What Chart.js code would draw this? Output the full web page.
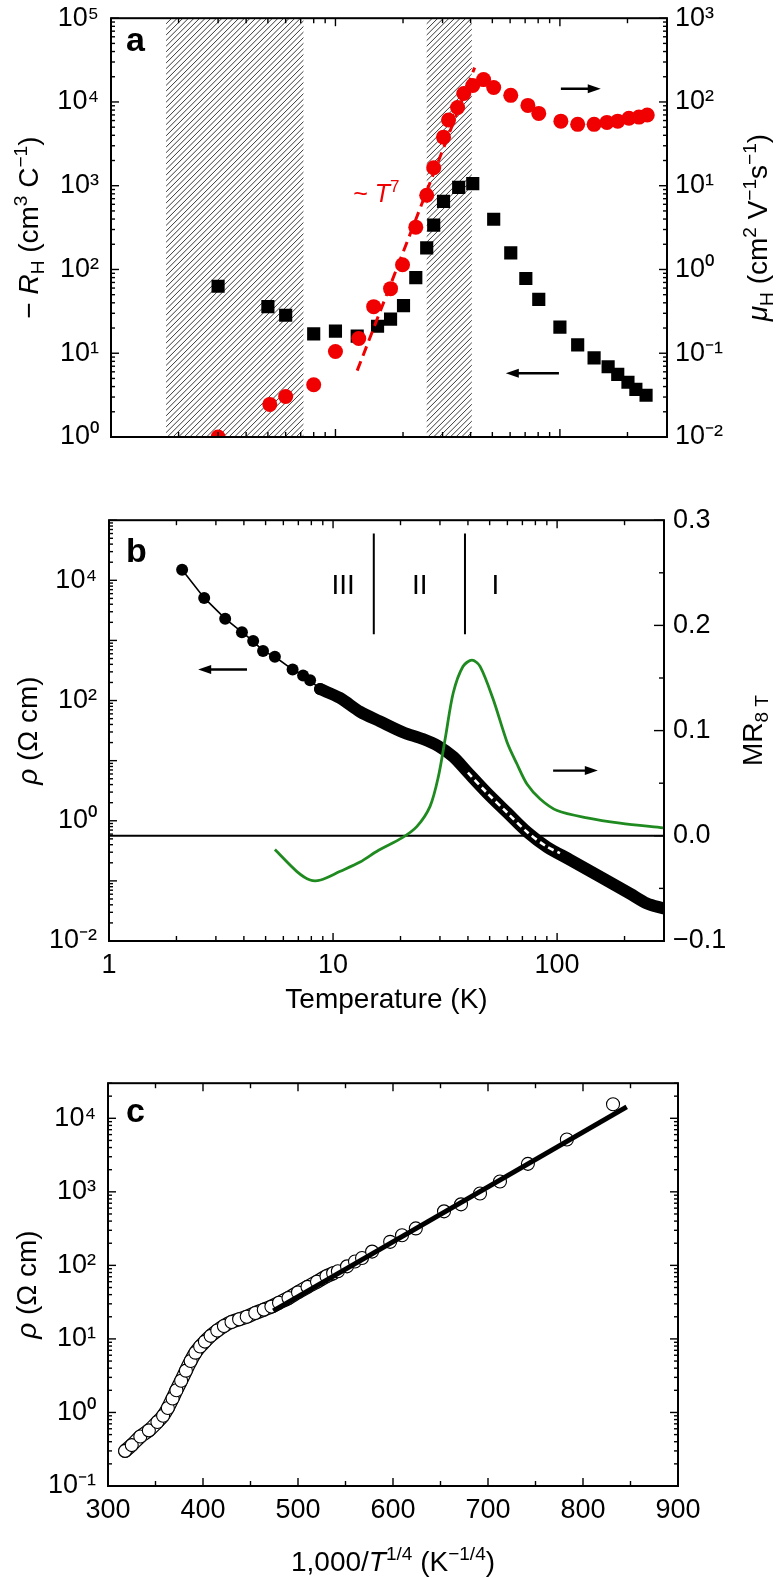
<!DOCTYPE html>
<html>
<head>
<meta charset="utf-8">
<title>Hall data, resistivity and VRH plot</title>
<script src="https://cdn.jsdelivr.net/npm/chart.js@4.4.1/dist/chart.umd.min.js"></script>
<style>
  html, body { margin: 0; padding: 0; background: #fff; }
  body { position: relative; width: 780px; height: 1578px; overflow: hidden; }
  canvas { position: absolute; left: 0; }
</style>
</head>
<body>
<canvas id="panelA" width="780" height="480" style="top:-10px"></canvas>
<canvas id="panelB" width="780" height="538" style="top:492px"></canvas>
<canvas id="panelC" width="780" height="523" style="top:1055px"></canvas>
<script>
// ---- panel a : -R_H (left) and mu_H (right) against T ----
const hallT  = [3, 5, 6, 8, 10, 12.5, 15.4, 17.6, 20.1, 22.8, 25.5, 27.4, 30.3, 35.4, 40.9, 50.7, 60.4, 70.5, 80.5, 100, 120, 142, 164, 181, 201, 218, 242];
const hallRH = [63, 36, 28.4, 17, 18.4, 16, 21, 25.5, 37, 80, 181, 339, 650, 955, 1060, 398, 158, 78, 44, 20.5, 12.6, 8.8, 6.9, 5.6, 4.5, 3.7, 3.15];
const mobT   = [3, 5.1, 6, 8, 10, 12.7, 14.8, 17.6, 19.9, 22.8, 25.5, 27.4, 30.3, 31.9, 35, 37.3, 40.9, 45.7, 50.7, 60.4, 72, 80.5, 101, 120, 142, 162, 181, 203, 225, 245];
const mobMu  = [0.01, 0.0245, 0.0305, 0.042, 0.105, 0.15, 0.36, 0.59, 1.14, 3.2, 7.7, 16.4, 38, 61, 86, 126, 157, 185, 149, 120, 91, 73, 59, 54, 54, 57, 59, 64, 66, 70];
const powT   = [12.5, 41.7];      // ~T^7 guide line
const powMu  = [0.062, 257];
const hatchT = [[1.76, 7.2], [25.5, 40.5]];

// ---- panel b : rho (left, log) and MR at 8 T (right) against T ----
const rhoT    = [2.12, 2.66, 3.3, 3.92, 4.4, 4.87, 5.5, 6.6, 7.35, 7.9, 8.75];
const rho     = [15000, 5100, 2300, 1370, 975, 670, 535, 328, 262, 217, 155];
const bandT   = [8.75, 10.7, 13.2, 16.2, 20.5, 25.2, 29.4, 34.4, 39.6, 48.7, 59.8, 73.5, 90, 114, 160, 212, 252, 297];
const band    = [155, 111, 65, 45, 29.7, 22.9, 17.6, 11.6, 6.6, 2.9, 1.37, 0.65, 0.367, 0.225, 0.111, 0.061, 0.042, 0.035];
const dashT   = [40, 48.7, 59.8, 73.5, 90, 103];
const dashRho = [6.3, 2.9, 1.37, 0.65, 0.37, 0.29];
const mrT     = [5.5, 6.9, 7.9, 8.8, 10.7, 13.2, 15.9, 20.3, 23.7, 27.1, 29.5, 31.7, 34.4, 38, 41.7, 45.3, 51.8, 59.8, 66.3, 73.5, 84, 100, 136, 191, 297];
const mr      = [-0.013, -0.034, -0.042, -0.042, -0.034, -0.025, -0.014, -0.002, 0.009, 0.028, 0.056, 0.093, 0.136, 0.161, 0.167, 0.161, 0.130, 0.089, 0.068, 0.049, 0.035, 0.024, 0.017, 0.012, 0.0075];
const regionT      = [15.2, 38.8];
const regionRho    = [1270, 60000];
const regionLabels = ['III', 'II', 'I'];
const regionLabelT = [11.1, 24.4, 53.1];

// ---- panel c : rho against 1000/T^(1/4) ----
const vrhX   = [318, 325, 334, 343, 352, 358, 363, 368, 372, 377, 382, 387, 392, 397, 402, 408, 415, 422, 430, 438, 446, 455, 464, 472, 480, 490, 500, 510, 520, 530, 537, 542, 551.6, 560, 567.4, 578, 597, 609.5, 624, 653.7, 671.6, 691.6, 712.6, 742, 783, 831.6];
const vrhRho = [0.30, 0.36, 0.47, 0.57, 0.74, 0.9, 1.15, 1.55, 2.0, 2.7, 3.7, 5.0, 6.5, 7.9, 9.2, 11, 13, 15, 17, 18.5, 20, 22.5, 25, 27.5, 31, 36, 43, 51, 60, 71, 78, 83, 97, 113, 126, 154, 209, 257, 318, 543, 676, 950, 1380, 2400, 5150, 15500];
const denseCount = 31;            // the first points overlap into a continuous band
const fitX   = [474, 846];
const fitRho = [24, 14300];

// tick labels
const tempTicks = [1, 10, 100];
const invTicks  = [300, 400, 500, 600, 700, 800, 900];
const mrTicks   = [-0.1, 0, 0.1, 0.2, 0.3];

const RED = '#f00000';
const GREEN = '#1f8a1f';
const FONT = "'Liberation Sans', Arial, Helvetica, sans-serif";
const TITLE_SIZE = 28;

Chart.defaults.font.family = FONT;
Chart.defaults.font.size = 27;
Chart.defaults.color = '#000';

const SUP = { '0': '⁰', '1': '¹', '2': '²', '3': '³', '4': '⁴', '5': '⁵', '-': '⁻' };
const pow10 = e => '10' + String(e).split('').map(c => SUP[c]).join('');
const pts = (xs, ys) => xs.map((x, i) => ({ x, y: ys[i] }));

function decadeLabels(exps) {
  return v => {
    const l = Math.log10(v), e = Math.round(l);
    return Math.abs(l - e) < 1e-6 && exps.includes(e) ? pow10(e) : '';
  };
}

function logTickSet(min, max) {
  const major = [], minor = [];
  for (let e = Math.floor(Math.log10(min)); e <= Math.ceil(Math.log10(max)); e++) {
    const b = Math.pow(10, e);
    if (b >= min * 0.999 && b <= max * 1.001) major.push(b);
    for (let k = 2; k <= 9; k++) {
      const v = k * b;
      if (v > min && v <= max * 1.001) minor.push(v);
    }
  }
  return { major, minor };
}

function logAxis(position, min, max, exps, width, padding) {
  return {
    type: 'logarithmic', position, min, max,
    grid: { display: false, drawTicks: false },
    border: { display: false },
    ticks: { autoSkip: false, padding, callback: decadeLabels(exps) },
    afterFit: s => { s.width = width; },
  };
}

function tempAxis(show, height) {
  return {
    type: 'logarithmic', min: 1, max: 300,
    grid: { display: false, drawTicks: false },
    border: { display: false },
    ticks: {
      display: show, autoSkip: false, maxRotation: 0, padding: 8,
      callback: v => tempTicks.some(t => Math.abs(t - v) < 1e-9) ? String(v) : '',
    },
    afterFit: s => { s.height = height; },
  };
}

// text with italic / sub / sup pieces, centred on (x, y)
function richText(ctx, parts, x, y, size, opt = {}) {
  const segs = parts.map(([t, st]) => {
    const small = st === 'sup' || st === 'sub';
    const fs = small ? size * 0.68 : size;
    const font = (st === 'i' ? 'italic ' : '') + fs + 'px ' + FONT;
    ctx.font = font;
    const dy = st === 'sup' ? -size * 0.4 : st === 'sub' ? size * 0.22 : 0;
    return { t, font, dy, w: ctx.measureText(t).width };
  });
  const total = segs.reduce((s, g) => s + g.w, 0);
  ctx.save();
  ctx.translate(x, y);
  if (opt.rotate) ctx.rotate(opt.rotate);
  ctx.fillStyle = opt.color || '#000';
  ctx.textBaseline = 'alphabetic';
  let cx = opt.align === 'left' ? 0 : -total / 2;
  const base = size * 0.36;
  segs.forEach(g => { ctx.font = g.font; ctx.fillText(g.t, cx, base + g.dy); cx += g.w; });
  ctx.restore();
}

// hatching, arrows, labels, axis titles
const notes = {
  id: 'notes',
  beforeDatasetsDraw(chart, args, o) {
    const { ctx, chartArea: a, scales } = chart;
    (o.hatch || []).forEach(([t0, t1]) => {
      const x0 = scales.x.getPixelForValue(t0), x1 = scales.x.getPixelForValue(t1);
      const h = a.bottom - a.top;
      ctx.save();
      ctx.beginPath();
      ctx.rect(x0, a.top, x1 - x0, h);
      ctx.clip();
      ctx.strokeStyle = '#222';
      ctx.lineWidth = 0.9;
      for (let x = x0 - h; x < x1; x += 5.6) {
        ctx.beginPath();
        ctx.moveTo(x, a.bottom);
        ctx.lineTo(x + h, a.top);
        ctx.stroke();
      }
      ctx.restore();
    });
  },
  afterDatasetsDraw(chart, args, o) {
    const { ctx, chartArea: a, scales } = chart;
    (o.arrows || []).forEach(ar => {
      const x0 = scales.x.getPixelForValue(ar.from), x1 = scales.x.getPixelForValue(ar.to);
      const y = scales[ar.axis].getPixelForValue(ar.at);
      const d = Math.sign(x1 - x0);
      ctx.save();
      ctx.strokeStyle = ctx.fillStyle = '#000';
      ctx.lineWidth = 2.4;
      ctx.beginPath(); ctx.moveTo(x0, y); ctx.lineTo(x1 - d * 8, y); ctx.stroke();
      ctx.beginPath();
      ctx.moveTo(x1, y); ctx.lineTo(x1 - d * 13, y - 4.5); ctx.lineTo(x1 - d * 13, y + 4.5);
      ctx.closePath(); ctx.fill();
      ctx.restore();
    });
    (o.texts || []).forEach(t => {
      const x = scales.x.getPixelForValue(t.x), y = scales[t.axis].getPixelForValue(t.y);
      richText(ctx, t.parts, x, y, t.size, { color: t.color, align: t.align });
    });
    if (o.letter) {
      ctx.save();
      ctx.font = 'bold 34px ' + FONT;
      ctx.fillStyle = '#000';
      ctx.fillText(o.letter.text, a.left + o.letter.dx, a.top + o.letter.dy);
      ctx.restore();
    }
  },
  afterDraw(chart, args, o) {
    const { ctx, chartArea: a } = chart;
    (o.titles || []).forEach(t => {
      const midY = (a.top + a.bottom) / 2;
      if (t.pos === 'bottom') richText(ctx, t.parts, (a.left + a.right) / 2, a.bottom + t.off, TITLE_SIZE);
      else richText(ctx, t.parts, t.off, midY, TITLE_SIZE, { rotate: -Math.PI / 2 });
    });
  },
};

// frame with inward ticks on all four sides
const frame = {
  id: 'frame',
  afterDatasetsDraw(chart, args, o) {
    const { ctx, chartArea: a } = chart;
    ctx.save();
    ctx.strokeStyle = '#000';
    ctx.lineWidth = 1.4;
    ['bottom', 'top', 'left', 'right'].forEach(side => {
      const sp = o[side];
      if (!sp) return;
      const sc = chart.scales[sp.scale];
      const tick = (v, len) => {
        const p = sc.getPixelForValue(v);
        ctx.beginPath();
        if (side === 'bottom') { ctx.moveTo(p, a.bottom); ctx.lineTo(p, a.bottom - len); }
        if (side === 'top') { ctx.moveTo(p, a.top); ctx.lineTo(p, a.top + len); }
        if (side === 'left') { ctx.moveTo(a.left, p); ctx.lineTo(a.left + len, p); }
        if (side === 'right') { ctx.moveTo(a.right, p); ctx.lineTo(a.right - len, p); }
        ctx.stroke();
      };
      sp.major.forEach(v => tick(v, sp.len[0]));
      sp.minor.forEach(v => tick(v, sp.len[1]));
    });
    ctx.lineWidth = 2;
    ctx.strokeRect(a.left, a.top, a.right - a.left, a.bottom - a.top);
    ctx.restore();
  },
};

const base = { responsive: false, animation: false, layout: { padding: { top: 20, left: 0, right: 0, bottom: 0 } } };
const quiet = { legend: { display: false }, tooltip: { enabled: false } };
const tTicks = logTickSet(1, 300);

// ---------- panel a ----------
new Chart(document.getElementById('panelA'), {
  type: 'scatter',
  data: {
    datasets: [
      { data: pts(mobT, mobMu), yAxisID: 'y2', pointStyle: 'circle', pointRadius: 7.5,
        pointBackgroundColor: RED, pointBorderWidth: 0 },
      { data: pts(powT, powMu), yAxisID: 'y2', showLine: true, borderColor: RED, borderWidth: 3,
        borderDash: [10, 6], pointRadius: 0 },
      { data: pts(hallT, hallRH), yAxisID: 'y', pointStyle: 'rect', pointRadius: 9.3,
        pointBackgroundColor: '#000', pointBorderWidth: 0 },
    ],
  },
  options: {
    ...base,
    scales: {
      x: tempAxis(false, 33),
      y: logAxis('left', 1, 1e5, [0, 1, 2, 3, 4, 5], 111, 12),
      y2: logAxis('right', 0.01, 1000, [-2, -1, 0, 1, 2, 3], 113, 8),
    },
    plugins: {
      ...quiet,
      notes: {
        hatch: hatchT,
        arrows: [
          { axis: 'y', from: 101, to: 152, at: 14400 },
          { axis: 'y', from: 99, to: 57.4, at: 5.77 },
        ],
        texts: [
          { x: 12.0, y: 820, axis: 'y', size: 25, color: RED, align: 'left',
            parts: [['~ ', ''], ['T', 'i'], ['7', 'sup']] },
        ],
        letter: { text: 'a', dx: 15, dy: 33 },
        titles: [
          { pos: 'left', off: 28, parts: [['− ', ''], ['R', 'i'], ['H', 'sub'], [' (cm', ''], ['3', 'sup'], [' C', ''], ['−1', 'sup'], [')', '']] },
          { pos: 'right', off: 757, parts: [['μ', 'i'], ['H', 'sub'], [' (cm', ''], ['2', 'sup'], [' V', ''], ['−1', 'sup'], ['s', ''], ['−1', 'sup'], [')', '']] },
        ],
      },
      frame: {
        bottom: { scale: 'x', ...tTicks, len: [8, 5] },
        top: { scale: 'x', ...tTicks, len: [8, 5] },
        left: { scale: 'y', ...logTickSet(1, 1e5), len: [8, 4] },
        right: { scale: 'y2', ...logTickSet(0.01, 1000), len: [8, 4] },
      },
    },
  },
  plugins: [notes, frame],
});

// ---------- panel b ----------
new Chart(document.getElementById('panelB'), {
  type: 'scatter',
  data: {
    datasets: [
      { data: pts(dashT, dashRho), yAxisID: 'y', showLine: true, borderColor: '#fff', borderWidth: 2.6,
        borderDash: [6, 4], pointRadius: 0, tension: 0.3 },
      { data: pts(mrT, mr), yAxisID: 'y2', showLine: true, borderColor: GREEN, borderWidth: 2.8,
        pointRadius: 0, tension: 0.3 },
      { data: pts([regionT[0], regionT[0]], regionRho), yAxisID: 'y', showLine: true, borderColor: '#000',
        borderWidth: 2, pointRadius: 0 },
      { data: pts([regionT[1], regionT[1]], regionRho), yAxisID: 'y', showLine: true, borderColor: '#000',
        borderWidth: 2, pointRadius: 0 },
      { data: pts([1, 300], [0, 0]), yAxisID: 'y2', showLine: true, borderColor: '#000', borderWidth: 2,
        pointRadius: 0 },
      { data: pts(rhoT, rho), yAxisID: 'y', showLine: true, borderColor: '#000', borderWidth: 1.6,
        pointRadius: 6, pointBackgroundColor: '#000', pointBorderWidth: 0 },
      { data: pts(bandT, band), yAxisID: 'y', showLine: true, borderColor: '#000', borderWidth: 12,
        borderCapStyle: 'round', borderJoinStyle: 'round', pointRadius: 0, tension: 0.3 },
    ],
  },
  options: {
    ...base,
    scales: {
      x: tempAxis(true, 89),
      y: logAxis('left', 0.01, 1e5, [4, 2, 0, -2], 109, 12),
      y2: {
        type: 'linear', position: 'right', min: -0.1, max: 0.3,
        grid: { display: false, drawTicks: false },
        border: { display: false },
        ticks: {
          stepSize: 0.1, padding: 9,
          callback: v => {
            const r = Math.round(v * 10) / 10;
            return mrTicks.some(m => Math.abs(m - r) < 1e-9) ? (r < 0 ? '−' : '') + Math.abs(r).toFixed(1) : '';
          },
        },
        afterFit: s => { s.width = 116; },
      },
    },
    plugins: {
      ...quiet,
      notes: {
        arrows: [
          { axis: 'y', from: 4.13, to: 2.5, at: 329 },
          { axis: 'y2', from: 96, to: 152, at: 0.062 },
        ],
        texts: regionLabels.map((t, i) => ({ x: regionLabelT[i], y: 8600, axis: 'y', size: 28, parts: [[t, '']] })),
        letter: { text: 'b', dx: 17, dy: 42 },
        titles: [
          { pos: 'left', off: 27, parts: [['ρ', 'i'], [' (Ω cm)', '']] },
          { pos: 'right', off: 752, parts: [['MR', ''], ['8 T', 'sub']] },
          { pos: 'bottom', off: 57, parts: [['Temperature (K)', '']] },
        ],
      },
      frame: {
        bottom: { scale: 'x', ...tTicks, len: [8, 5] },
        top: { scale: 'x', ...tTicks, len: [8, 5] },
        left: { scale: 'y', ...logTickSet(0.01, 1e5), len: [8, 4] },
        right: { scale: 'y2', major: mrTicks, minor: [-0.05, 0.05, 0.15, 0.25], len: [10, 5] },
      },
    },
  },
  plugins: [notes, frame],
});

// ---------- panel c ----------
const denseX = vrhX.slice(0, denseCount), denseRho = vrhRho.slice(0, denseCount);
new Chart(document.getElementById('panelC'), {
  type: 'scatter',
  data: {
    datasets: [
      { data: pts(fitX, fitRho), showLine: true, borderColor: '#000', borderWidth: 5, pointRadius: 0 },
      { data: pts(vrhX, vrhRho), pointStyle: 'circle', pointRadius: 6.5, pointBackgroundColor: '#fff',
        pointBorderColor: '#000', pointBorderWidth: 1.1 },
      // outline of the overlapping circles in the dense part
      { data: pts(denseX, denseRho), showLine: true, borderColor: '#fff', borderWidth: 11.5,
        borderCapStyle: 'round', borderJoinStyle: 'round', pointRadius: 0, tension: 0.3 },
      { data: pts(denseX, denseRho), showLine: true, borderColor: '#000', borderWidth: 14,
        borderCapStyle: 'round', borderJoinStyle: 'round', pointRadius: 0, tension: 0.3 },
    ],
  },
  options: {
    ...base,
    layout: { padding: { top: 20, left: 0, right: 102, bottom: 0 } },
    scales: {
      x: {
        type: 'linear', min: 300, max: 900,
        grid: { display: false, drawTicks: false },
        border: { display: false },
        ticks: { stepSize: 100, padding: 8, maxRotation: 0, callback: v => invTicks.includes(v) ? String(v) : '' },
        afterFit: s => { s.height = 92; },
      },
      y: logAxis('left', 0.1, 3e4, [-1, 0, 1, 2, 3, 4], 108, 12),
    },
    plugins: {
      ...quiet,
      notes: {
        letter: { text: 'c', dx: 18, dy: 39 },
        titles: [
          { pos: 'left', off: 26, parts: [['ρ', 'i'], [' (Ω cm)', '']] },
          { pos: 'bottom', off: 75, parts: [['1,000/', ''], ['T', 'i'], ['1/4', 'sup'], [' (K', ''], ['−1/4', 'sup'], [')', '']] },
        ],
      },
      frame: {
        bottom: { scale: 'x', major: invTicks, minor: [350, 450, 550, 650, 750, 850], len: [8, 5] },
        top: { scale: 'x', major: invTicks, minor: [350, 450, 550, 650, 750, 850], len: [8, 5] },
        left: { scale: 'y', ...logTickSet(0.1, 3e4), len: [8, 4] },
        right: { scale: 'y', ...logTickSet(0.1, 3e4), len: [8, 4] },
      },
    },
  },
  plugins: [notes, frame],
});
</script>
</body>
</html>
